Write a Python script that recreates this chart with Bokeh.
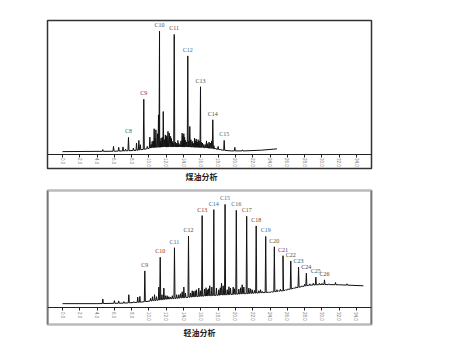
import numpy as np
from bokeh.plotting import figure
from bokeh.models import LinearAxis, FixedTicker, Span, ColumnDataSource, LabelSet
from bokeh.layouts import column
from bokeh.embed import file_html
from bokeh.resources import INLINE

# ---------------- data ----------------
tick_values = [0, 2, 4, 6, 8, 10, 12, 14, 16, 18, 20, 22, 24, 26, 28, 30, 32, 34]
tick_labels = ["0.0", "2.0", "4.0", "6.0", "8.0", "10.0", "12.0", "14.0", "16.0",
               "18.0", "20.0", "22.0", "24.0", "26.0", "28.0", "30.0", "32.0", "34.0"]

# Kerosene (top) - baseline knots (time, level)
kero_base_t = [0, 6, 8.5, 9.5, 10.5, 12, 14, 16, 17.5, 18.5, 19.5, 21, 23, 24.8]
kero_base_y = [0, 0.3, 1.0, 2.0, 3.5, 4.0, 4.0, 3.5, 2.5, 1.2, 0.6, 0.6, 1.2, 2.3]
# unlabeled peaks (time, absolute height)
kero_peak_t = [4.66, 5.9, 6.5, 7.0, 7.3, 8.2, 8.56, 8.83, 9.0, 9.8, 10.1, 10.25, 10.37, 10.5,
               10.6, 10.7, 10.8, 11.0, 11.1, 11.3, 11.4, 11.55, 11.65, 11.78, 11.9, 12.0, 12.06,
               12.2, 12.35, 12.5, 12.6, 12.7, 12.8, 13.05, 13.15, 13.25, 13.34, 13.45, 13.57,
               13.7, 13.84, 13.93, 14.03, 14.12, 14.22, 14.35, 14.6, 14.72, 14.85, 15.0, 15.12,
               15.27, 15.35, 15.46, 15.58, 15.69, 15.8, 16.05, 16.19, 16.35, 16.54, 16.65, 16.8,
               16.95, 17.1, 17.25, 17.5, 17.7, 18.0, 18.27, 19.93, 20.8]
kero_peak_h = [1.7, 4.4, 3.6, 3.9, 2.0, 3.0, 7.2, 9.4, 5.8, 4.4, 12.2, 6.0, 8.6, 9.0,
               19.2, 11.0, 18.3, 15.0, 30.8, 9.0, 11.4, 12.0, 33.6, 10.0, 14.0, 12.0, 13.3,
               17.0, 15.5, 12.8, 11.0, 8.6, 7.0, 8.0, 7.2, 6.0, 9.4, 7.0, 5.8,
               9.0, 15.5, 13.0, 15.0, 12.0, 9.4, 8.0, 9.0, 21.1, 10.0, 8.6, 7.0,
               11.4, 9.0, 10.6, 8.0, 10.0, 9.0, 8.0, 7.2, 6.0, 5.8, 9.0, 6.7,
               8.0, 7.2, 9.0, 5.0, 3.0, 4.4, 2.2, 3.6, 1.5]
kero_names = ["C8", "C9", "C10", "C11", "C12", "C13", "C14", "C15"]
kero_label_t = [7.63, 9.4, 11.22, 12.92, 14.49, 15.96, 17.38, 18.7]
kero_label_h = [11.9, 43.9, 101.0, 98.3, 80.3, 54.4, 26.7, 9.4]
kero_colors = ["#3d6b5c", "#7a3060", "#5a4a4a", "#7a3a3a", "#2f6aa5", "#2f5a6a", "#2f4f5f", "#2f6f7a"]

# Light oil (bottom)
gas_base_t = [0, 4, 7, 9, 10.5, 12, 14, 16, 18, 20, 22, 24, 25.5, 27, 28.5, 30, 32, 34.8]
gas_base_y = [0, 0, 0.5, 1.5, 3.0, 4.5, 6.0, 7.5, 8.5, 9.5, 10.5, 11.5, 13.0, 16.0, 18.5, 19.3, 19.0, 18.0]
gas_peak_t = [4.66, 6.0, 6.5, 7.1, 7.67, 8.25, 8.7, 8.95, 10.18, 10.4, 10.64, 10.87, 11.14,
              11.5, 11.72, 11.9, 12.1, 12.3, 12.5, 12.7, 13.2, 13.45, 13.65, 13.84, 14.03, 14.22,
              14.8, 15.0, 15.18, 15.35, 15.5, 15.76, 15.95, 16.42, 16.6, 16.73, 16.88, 17.03, 17.27,
              17.8, 18.08, 18.25, 18.39, 18.58, 19.05, 19.25, 19.43, 19.74, 19.9, 20.39, 20.6,
              20.78, 20.97, 21.55, 21.75, 21.94, 22.2, 22.7, 22.9, 23.1, 23.86, 24.17, 24.8,
              25.0, 25.2, 25.8, 26.1, 26.75, 27.0, 27.7, 28.0, 28.6, 29.0, 29.7, 30.0, 30.8,
              31.57, 32.9]
gas_peak_h = [4.7, 3.0, 2.7, 2.0, 9.0, 2.0, 6.7, 7.3, 5.3, 7.0, 9.0, 7.0, 16.7,
              9.0, 15.7, 8.0, 8.0, 7.0, 6.7, 8.0, 9.0, 9.0, 10.0, 12.0, 16.7, 10.7,
              10.7, 13.0, 12.3, 13.0, 14.0, 15.7, 13.0, 14.7, 16.0, 14.0, 15.0, 18.0, 16.7,
              15.7, 14.0, 16.0, 20.7, 18.0, 14.0, 17.0, 15.7, 16.7, 15.0, 14.7, 16.0,
              19.0, 16.7, 15.7, 15.0, 14.0, 13.3, 13.0, 14.0, 12.3, 11.7, 12.0, 14.0,
              13.0, 14.5, 14.0, 15.0, 15.7, 17.0, 18.0, 19.5, 20.0, 20.5, 20.5, 20.5, 20.0,
              21.3, 20.0]
gas_names = ["C9", "C10", "C11", "C12", "C13", "C14", "C15", "C16", "C17", "C18",
             "C19", "C20", "C21", "C22", "C23", "C24", "C25", "C26"]
gas_label_t = [9.52, 11.3, 12.95, 14.57, 16.15, 17.5, 18.8, 20.1, 21.3, 22.4,
               23.5, 24.5, 25.5, 26.4, 27.3, 28.2, 29.3, 30.3]
gas_label_h = [33.0, 46.7, 56.3, 68.0, 88.7, 94.7, 100.0, 94.0, 88.0, 78.3,
               67.7, 57.3, 48.3, 43.0, 36.7, 30.7, 26.7, 24.0]
gas_colors = ["#8a3a2a", "#8a3a2a", "#2f6aa5", "#2f4f6f", "#8a2a2a", "#3a6a8a", "#3a6a9a",
              "#3a6a8a", "#5a5a2a", "#6a4a2a", "#2f6aa5", "#6a5a2a", "#4a3a8a", "#4a4a2a",
              "#2a5a5a", "#4a2a5a", "#2a5a6a", "#6a3a2a"]

kero_title = "煤油分析"
gas_title = "轻油分析"


def build_trace(base_t, base_y, pk_t, pk_h, w=0.06):
    ts = list(base_t)
    ys = list(base_y)
    for t, h in zip(pk_t, pk_h):
        for dt in (-w, w):
            ts.append(t + dt)
            ys.append(float(np.interp(t + dt, base_t, base_y)))
        ts.append(t)
        ys.append(h)
    order = np.argsort(np.array(ts), kind="stable")
    return np.array(ts)[order], np.array(ys)[order]


X_RANGE = (-1.735, 35.735)


def make_panel(title, base_t, base_y, pk_t, pk_h, names, lt, lh, colors,
               y_range, axis_loc, height, top_border, frame_color, frame_w, title_offset):
    p = figure(width=381, height=height, x_range=X_RANGE, y_range=y_range,
               output_backend="svg", toolbar_location=None,
               x_axis_location=None, y_axis_location=None,
               min_border_left=47, min_border_right=10,
               min_border_top=top_border, min_border_bottom=12)
    p.grid.visible = False
    p.outline_line_color = frame_color
    p.outline_line_width = frame_w
    p.background_fill_color = "white"
    p.border_fill_color = "white"

    all_t = list(pk_t) + list(lt)
    all_h = list(pk_h) + list(lh)
    tx, ty = build_trace(base_t, base_y, all_t, all_h)
    p.line(tx, ty, line_color="#111111", line_width=1)

    src = ColumnDataSource(dict(x=lt, y=lh, name=names, color=colors))
    p.add_layout(LabelSet(x="x", y="y", text="name", source=src, text_color="color",
                          text_font_size="6px", text_font="Liberation Sans",
                          text_align="center", text_baseline="bottom", y_offset=3))

    ax = LinearAxis(fixed_location=axis_loc, ticker=FixedTicker(ticks=tick_values),
                    major_label_overrides={v: s for v, s in zip(tick_values, tick_labels)})
    ax.major_label_orientation = "vertical"
    ax.major_label_text_font_size = "4.5px"
    ax.major_label_text_font = "Liberation Sans"
    ax.major_label_text_color = "#777777"
    ax.major_label_standoff = 1
    ax.major_tick_out = 3
    ax.major_tick_in = 0
    ax.minor_tick_line_color = None
    ax.axis_line_color = "#222222"
    ax.major_tick_line_color = "#222222"
    p.add_layout(ax, "below")

    p.title.text = title
    p.title_location = "below"
    p.title.align = "left"
    p.title.offset = title_offset
    p.title.standoff = 0
    p.title.text_font = "Noto Sans CJK SC"
    p.title.text_font_size = "8px"
    p.title.text_font_style = "bold"
    p.title.text_color = "#222222"
    return p


p1 = make_panel(kero_title, kero_base_t, kero_base_y, kero_peak_t, kero_peak_h,
                kero_names, kero_label_t, kero_label_h, kero_colors,
                (-14.17, 110.0), -2.08, 181, 20, "#333333", 1.5, 138)

p2 = make_panel(gas_title, gas_base_t, gas_base_y, gas_peak_t, gas_peak_h,
                gas_names, gas_label_t, gas_label_h, gas_colors,
                (-21.0, 114.0), -4.3, 156, 9, "#bbbbbb", 2.5, 136)
for xloc in X_RANGE:
    p2.add_layout(Span(location=xloc, dimension="height", line_color="#333333", line_width=1.5))

layout = column(p1, p2, spacing=0)
open("out.html", "w").write(file_html(layout, INLINE))
